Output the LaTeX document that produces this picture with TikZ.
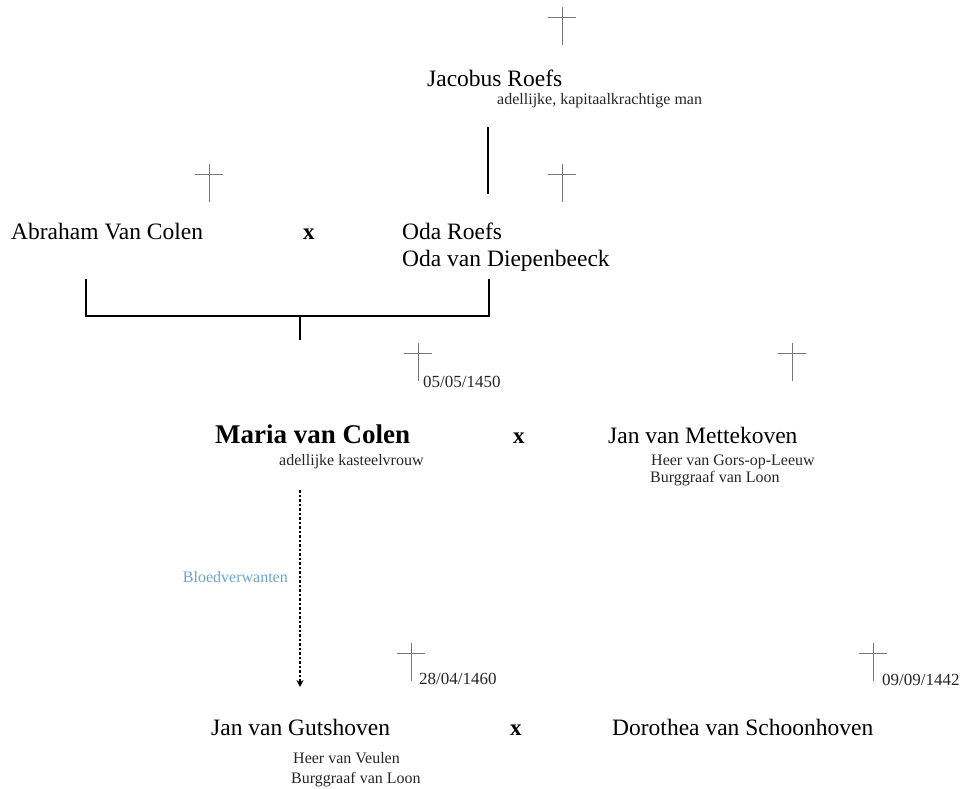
\documentclass[tikz,border=0pt]{standalone}
\usepackage{fontspec}
\setmainfont{Liberation Serif}
\usetikzlibrary{positioning}
\usetikzlibrary{arrows.meta}
\definecolor{kruisgrijs}{HTML}{777777}
\definecolor{bloedblauw}{HTML}{6AA6D0}
\tikzstyle{naam}=[inner sep=0pt, anchor=base west, font=\fontsize{23.5}{26}\selectfont]
\tikzstyle{hoofdnaam}=[inner sep=0pt, anchor=base west, font=\fontsize{27}{30}\selectfont\bfseries]
\tikzstyle{titel}=[inner sep=0pt, anchor=base west, text=black!85, font=\fontsize{16}{18}\selectfont]
\tikzstyle{datum}=[inner sep=0pt, anchor=base west, text=black!85, font=\fontsize{17}{19}\selectfont]
\tikzstyle{huwelijk}=[inner sep=0pt, anchor=base west, font=\fontsize{23}{26}\selectfont\bfseries]
\tikzstyle{lijn}=[line width=1.5pt]
\tikzstyle{bloedlijn}=[line width=1.5pt, dash pattern=on 2.5pt off 2pt, -{Stealth[length=7pt,width=7pt]}]
\tikzset{kruis/.pic={\draw[kruisgrijs, line width=0.9pt] (-14,10) -- (14,10) (0,0) -- (0,38);}}

\begin{document}
\begin{tikzpicture}[x=1pt,y=-1pt]
		\useasboundingbox (0,0) rectangle (972,789);
		\pic at (562,7) {kruis};
		\node[naam] (jacobus) at (427,87) {Jacobus Roefs};
		\node[titel] (jacobustitel) at (497,105) {adellijke, kapitaalkrachtige man};
		\coordinate (jacobus-voet) at (488,127);
		\coordinate (oda-kop) at (488,194);
		\draw[lijn] (jacobus-voet) -- (oda-kop);
		\pic at (209,164) {kruis};
		\pic at (562,164) {kruis};
		\node[naam] (abraham) at (11,239) {Abraham Van Colen};
		\node[huwelijk] (x1) at (303,239) {x};
		\node[naam] (oda) at (402,239) {Oda Roefs};
		\node[naam] (odaalias) at (402,266) {Oda van Diepenbeeck};
		\coordinate (abraham-voet) at (86,279);
		\coordinate (oda-voet) at (489,279);
		\coordinate (ouders) at (300,316);
		\coordinate (maria-kop) at (300,340);
		\draw[lijn] (abraham-voet) |- (ouders) -| (oda-voet);
		\draw[lijn] (ouders) -- (maria-kop);
		\pic at (418,343) {kruis};
		\node[datum] (mariadatum) at (423,387) {05/05/1450};
		\pic at (792,343) {kruis};
		\node[hoofdnaam] (maria) at (215,443) {Maria van Colen};
		\node[titel] (mariatitel) at (279,465) {adellijke kasteelvrouw};
		\node[huwelijk] (x2) at (513,443) {x};
		\node[naam] (mettekoven) at (608,443) {Jan van Mettekoven};
		\node[titel] (mettekoventitel) at (651,465) {Heer van Gors-op-Leeuw};
		\node[titel] (mettekovenburg) at (650,482) {Burggraaf van Loon};
		\coordinate (maria-voet) at (300,490);
		\coordinate (gutshoven-kop) at (300,687);
		\draw[bloedlijn] (maria-voet) -- (gutshoven-kop);
		\node[titel, anchor=base east, text=bloedblauw] (bloed) at (288,582) {Bloedverwanten};
		\pic at (411,643) {kruis};
		\node[datum] (gutshovendatum) at (419,684) {28/04/1460};
		\pic at (873,643) {kruis};
		\node[datum] (dorotheadatum) at (882,685) {09/09/1442};
		\node[naam] (gutshoven) at (211,735) {Jan van Gutshoven};
		\node[huwelijk] (x3) at (510,735) {x};
		\node[naam] (dorothea) at (612,735) {Dorothea van Schoonhoven};
		\node[titel] (gutshoventitel) at (293,763) {Heer van Veulen};
		\node[titel] (gutshovenburg) at (291,783) {Burggraaf van Loon};
\end{tikzpicture}
\end{document}
